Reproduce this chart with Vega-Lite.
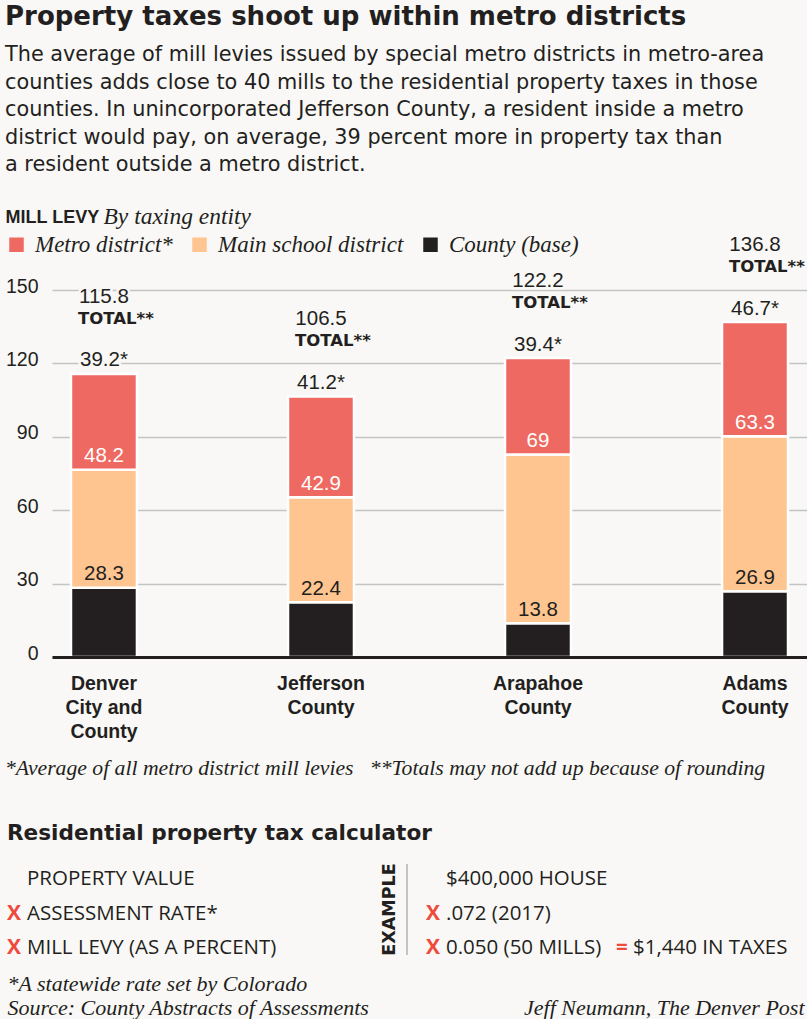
{
  "$schema": "https://vega.github.io/schema/vega-lite/v6.json",
  "background": "#f9f8f6",
  "padding": {"left": 5, "top": 4, "right": 0, "bottom": 0},
  "config": {"view": {"stroke": null}},
  "title": {
    "text": "Property taxes shoot up within metro districts",
    "subtitle": [
      "The average of mill levies issued by special metro districts in metro-area",
      "counties adds close to 40 mills to the residential property taxes in those",
      "counties. In unincorporated Jefferson County, a resident inside a metro",
      "district would pay, on average, 39 percent more in property tax than",
      "a resident outside a metro district."
    ],
    "anchor": "start",
    "frame": "bounds",
    "font": "DejaVu Sans",
    "fontSize": 26,
    "fontWeight": "bold",
    "color": "#231f20",
    "subtitleFont": "DejaVu Sans",
    "subtitleFontSize": 20.8,
    "subtitleColor": "#231f20",
    "subtitleLineHeight": 27.5,
    "subtitlePadding": 15,
    "offset": 29
  },
  "datasets": {
    "levies": [
      {"county": "Denver City and County", "entity": "County (base)", "mills": 28.3, "label": "28.3"},
      {"county": "Denver City and County", "entity": "Main school district", "mills": 48.2, "label": "48.2"},
      {"county": "Denver City and County", "entity": "Metro district", "mills": 39.2, "label": "39.2*"},
      {"county": "Jefferson County", "entity": "County (base)", "mills": 22.4, "label": "22.4"},
      {"county": "Jefferson County", "entity": "Main school district", "mills": 42.9, "label": "42.9"},
      {"county": "Jefferson County", "entity": "Metro district", "mills": 41.2, "label": "41.2*"},
      {"county": "Arapahoe County", "entity": "County (base)", "mills": 13.8, "label": "13.8"},
      {"county": "Arapahoe County", "entity": "Main school district", "mills": 69, "label": "69"},
      {"county": "Arapahoe County", "entity": "Metro district", "mills": 39.4, "label": "39.4*"},
      {"county": "Adams County", "entity": "County (base)", "mills": 26.9, "label": "26.9"},
      {"county": "Adams County", "entity": "Main school district", "mills": 63.3, "label": "63.3"},
      {"county": "Adams County", "entity": "Metro district", "mills": 46.7, "label": "46.7*"}
    ],
    "totals": [
      {"county": "Denver City and County", "total": 115.8},
      {"county": "Jefferson County", "total": 106.5},
      {"county": "Arapahoe County", "total": 122.2},
      {"county": "Adams County", "total": 136.8}
    ],
    "calc": [
      {"side": "rule", "step": 1, "op": "", "text": "PROPERTY VALUE", "result": ""},
      {"side": "rule", "step": 2, "op": "X", "text": "ASSESSMENT RATE*", "result": ""},
      {"side": "rule", "step": 3, "op": "X", "text": "MILL LEVY (AS A PERCENT)", "result": ""},
      {"side": "example", "step": 1, "op": "", "text": "$400,000 HOUSE", "result": ""},
      {"side": "example", "step": 2, "op": "X", "text": ".072 (2017)", "result": ""},
      {"side": "example", "step": 3, "op": "X", "text": "0.050 (50 MILLS)", "result": "$1,440 IN TAXES"}
    ]
  },
  "columns": 1,
  "bounds": "full",
  "spacing": 43,
  "concat": [
    {
      "width": 755,
      "height": 367,
      "title": {
        "text": "*Average of all metro district mill levies\u00a0\u00a0 **Totals may not add up because of rounding",
        "orient": "bottom",
        "anchor": "start",
        "frame": "bounds",
        "font": "Liberation Serif",
        "fontStyle": "italic",
        "fontWeight": "normal",
        "fontSize": 21.7,
        "color": "#231f20",
        "offset": 17
      },
      "encoding": {
        "x": {
          "field": "county",
          "type": "nominal",
          "sort": ["Denver City and County", "Jefferson County", "Arapahoe County", "Adams County"],
          "scale": {"paddingInner": 0.696, "paddingOuter": 0.0875},
          "axis": {
            "title": "MILL LEVY",
            "titleX": -47,
            "titleY": -435,
            "titleAlign": "left",
            "titleAnchor": null,
            "titleBaseline": "alphabetic",
            "titleAngle": 0,
            "titleFont": "Liberation Sans",
            "titleFontWeight": "bold",
            "titleFontSize": 18,
            "titleColor": "#231f20",
            "labelAngle": 0,
            "labelFont": "Liberation Sans",
            "labelFontWeight": "bold",
            "labelFontSize": 19.5,
            "labelColor": "#231f20",
            "labelLineHeight": 24,
            "labelPadding": 17,
            "labelBaseline": "top",
            "labelLimit": 0,
            "labelExpr": "datum.value == 'Denver City and County' ? ['Denver', 'City and', 'County'] : split(datum.value, ' ')",
            "ticks": false,
            "domain": true,
            "domainColor": "#231f20",
            "domainWidth": 3,
            "grid": false,
            "zindex": 1
          }
        }
      },
      "layer": [
        {
          "data": {"name": "levies"},
          "mark": {"type": "bar", "stroke": "#ffffff", "strokeWidth": 2.5},
          "encoding": {
            "y": {
              "field": "mills",
              "type": "quantitative",
              "stack": "zero",
              "scale": {"domain": [0, 150], "nice": false},
              "axis": {
                "title": "By taxing entity",
                "titleAngle": 0,
                "titleX": 51,
                "titleY": -67,
                "titleAlign": "left",
                "titleAnchor": null,
                "titleBaseline": "alphabetic",
                "titleFont": "Liberation Serif",
                "titleFontStyle": "italic",
                "titleFontWeight": "normal",
                "titleFontSize": 23.5,
                "titleColor": "#231f20",
                "values": [0, 30, 60, 90, 120, 150],
                "labelFont": "Liberation Sans",
                "labelFontSize": 19.5,
                "labelColor": "#231f20",
                "labelPadding": 14,
                "labelBaseline": "alphabetic",
                "labelOffset": 2,
                "ticks": false,
                "domain": false,
                "grid": true,
                "gridColor": "#c4c4c4",
                "gridWidth": 1.5,
                "minExtent": 47,
                "maxExtent": 47,
                "zindex": 0
              }
            },
            "color": {
              "field": "entity",
              "type": "nominal",
              "scale": {
                "domain": ["Metro district", "Main school district", "County (base)"],
                "range": ["#ee6961", "#fec591", "#231f20"]
              },
              "legend": {
                "orient": "none",
                "legendX": -47,
                "legendY": -57,
                "direction": "horizontal",
                "title": null,
                "symbolType": "square",
                "symbolSize": 210,
                "symbolStrokeWidth": 0,
                "symbolOpacity": 1,
                "labelFont": "Liberation Serif",
                "labelFontStyle": "italic",
                "labelFontSize": 23,
                "labelColor": "#231f20",
                "labelOffset": 7,
                "columnPadding": 15,
                "padding": 0,
                "labelLimit": 0,
                "labelExpr": "datum.label === 'Metro district' ? 'Metro district*' : datum.label"
              }
            },
            "order": {"field": "entity", "type": "ordinal", "sort": "ascending"}
          }
        },
        {
          "data": {"name": "levies"},
          "mark": {"type": "text", "baseline": "middle", "dy": -13.5, "font": "Liberation Sans", "fontSize": 20.5, "fill": "#f9f8f6", "stroke": "#f9f8f6", "strokeWidth": 5, "strokeJoin": "round"},
          "encoding": {
            "y": {"field": "mills", "type": "quantitative", "stack": "zero", "scale": {"domain": [0, 150], "nice": false}},
            "detail": {"field": "entity"},
            "order": {"field": "entity", "type": "ordinal", "sort": "ascending"},
            "text": {"field": "label"},
            "opacity": {"condition": {"test": "datum.entity === 'Metro district'", "value": 1}, "value": 0}
          }
        },
        {
          "data": {"name": "levies"},
          "mark": {"type": "text", "baseline": "middle", "dy": -13.5, "font": "Liberation Sans", "fontSize": 20.5},
          "encoding": {
            "y": {"field": "mills", "type": "quantitative", "stack": "zero", "scale": {"domain": [0, 150], "nice": false}},
            "detail": {"field": "entity"},
            "order": {"field": "entity", "type": "ordinal", "sort": "ascending"},
            "text": {"field": "label"},
            "color": {"condition": {"test": "datum.entity === 'Main school district'", "value": "#ffffff"}, "value": "#231f20"}
          }
        },
        {
          "data": {"name": "totals"},
          "mark": {"type": "text", "baseline": "middle", "dy": -77, "font": "Liberation Sans", "fontSize": 20.5, "fill": "#f9f8f6", "stroke": "#f9f8f6", "strokeWidth": 5, "strokeJoin": "round"},
          "encoding": {
            "y": {"field": "total", "type": "quantitative", "scale": {"domain": [0, 150], "nice": false}},
            "text": {"field": "total", "format": ".1f"}
          }
        },
        {
          "data": {"name": "totals"},
          "mark": {"type": "text", "baseline": "middle", "dy": -77, "font": "Liberation Sans", "fontSize": 20.5, "color": "#231f20"},
          "encoding": {
            "y": {"field": "total", "type": "quantitative", "scale": {"domain": [0, 150], "nice": false}},
            "text": {"field": "total", "format": ".1f"}
          }
        },
        {
          "data": {"name": "totals"},
          "mark": {"type": "text", "text": "TOTAL**", "align": "left", "dx": -26, "baseline": "middle", "dy": -55, "font": "DejaVu Sans", "fontWeight": "bold", "fontSize": 16.5, "fill": "#f9f8f6", "stroke": "#f9f8f6", "strokeWidth": 5, "strokeJoin": "round"},
          "encoding": {
            "y": {"field": "total", "type": "quantitative", "scale": {"domain": [0, 150], "nice": false}}
          }
        },
        {
          "data": {"name": "totals"},
          "mark": {"type": "text", "text": "TOTAL**", "align": "left", "dx": -26, "baseline": "middle", "dy": -55, "font": "DejaVu Sans", "fontWeight": "bold", "fontSize": 16.5, "color": "#231f20"},
          "encoding": {
            "y": {"field": "total", "type": "quantitative", "scale": {"domain": [0, 150], "nice": false}}
          }
        }
      ]
    },
    {
      "width": 755,
      "height": 91,
      "title": {
        "text": "Residential property tax calculator",
        "anchor": "start",
        "frame": "bounds",
        "font": "DejaVu Sans",
        "fontSize": 21.6,
        "fontWeight": "bold",
        "color": "#231f20",
        "offset": 18.5
      },
      "layer": [
        {
          "data": {"values": [{}]},
          "mark": {"type": "rule", "xOffset": -39, "color": "#b3b3b3", "strokeWidth": 1.5},
          "encoding": {
            "x": {"datum": "example", "type": "nominal", "scale": {"type": "point", "domain": ["rule", "example"], "range": [-25, 394], "padding": 0}}
          }
        },
        {
          "data": {"values": [{}]},
          "mark": {"type": "text", "text": "EXAMPLE", "angle": 270, "align": "center", "baseline": "middle", "xOffset": -56, "font": "DejaVu Sans", "fontWeight": "bold", "fontSize": 17.5, "color": "#231f20"},
          "encoding": {
            "x": {"datum": "example", "type": "nominal"},
            "y": {"datum": 2, "type": "ordinal"}
          }
        },
        {
          "data": {"name": "calc"},
          "mark": {"type": "text", "align": "left", "baseline": "middle", "dy": 4, "font": "Open Sans", "fontSize": 20.5, "color": "#231f20"},
          "encoding": {
            "x": {
              "field": "side",
              "type": "nominal",
              "scale": {"type": "point", "domain": ["rule", "example"], "range": [-25, 394], "padding": 0},
              "axis": {
                "orient": "bottom",
                "labels": false,
                "ticks": false,
                "domain": false,
                "grid": false,
                "title": ["*A statewide rate set by Colorado", "Source: County Abstracts of Assessments"],
                "titleX": -45,
                "titleY": 35,
                "titleAlign": "left",
                "titleAnchor": null,
                "titleBaseline": "alphabetic",
                "titleFont": "Liberation Serif",
                "titleFontStyle": "italic",
                "titleFontWeight": "normal",
                "titleFontSize": 22,
                "titleLineHeight": 24.3,
                "titleColor": "#231f20"
              }
            },
            "y": {
              "field": "step",
              "type": "ordinal",
              "scale": {"type": "point", "domain": [1, 2, 3], "padding": 0.319},
              "axis": {
                "orient": "right",
                "labels": false,
                "ticks": false,
                "domain": false,
                "grid": false,
                "title": "Jeff Neumann, The Denver Post",
                "titleAngle": 0,
                "titleX": -3,
                "titleY": 150,
                "titleAlign": "right",
                "titleAnchor": null,
                "titleBaseline": "alphabetic",
                "titleFont": "Liberation Serif",
                "titleFontStyle": "italic",
                "titleFontWeight": "normal",
                "titleFontSize": 22,
                "titleColor": "#231f20"
              }
            },
            "text": {"field": "text"}
          }
        },
        {
          "data": {"name": "calc"},
          "transform": [{"filter": "datum.op !== ''"}],
          "mark": {"type": "text", "align": "right", "baseline": "middle", "dx": -6, "dy": 4, "font": "Open Sans", "fontWeight": "bold", "fontSize": 21, "color": "#ef4b3c"},
          "encoding": {
            "x": {"field": "side", "type": "nominal"},
            "y": {"field": "step", "type": "ordinal"},
            "text": {"field": "op"}
          }
        },
        {
          "data": {"name": "calc"},
          "transform": [{"filter": "datum.result !== ''"}],
          "mark": {"type": "text", "text": "=", "align": "left", "baseline": "middle", "dx": 170, "dy": 4, "font": "Open Sans", "fontWeight": "bold", "fontSize": 20.5, "color": "#ef4b3c"},
          "encoding": {
            "x": {"field": "side", "type": "nominal"},
            "y": {"field": "step", "type": "ordinal"}
          }
        },
        {
          "data": {"name": "calc"},
          "transform": [{"filter": "datum.result !== ''"}],
          "mark": {"type": "text", "align": "left", "baseline": "middle", "dx": 187, "dy": 4, "font": "Open Sans", "fontSize": 20.5, "color": "#231f20"},
          "encoding": {
            "x": {"field": "side", "type": "nominal"},
            "y": {"field": "step", "type": "ordinal"},
            "text": {"field": "result"}
          }
        }
      ]
    }
  ]
}
